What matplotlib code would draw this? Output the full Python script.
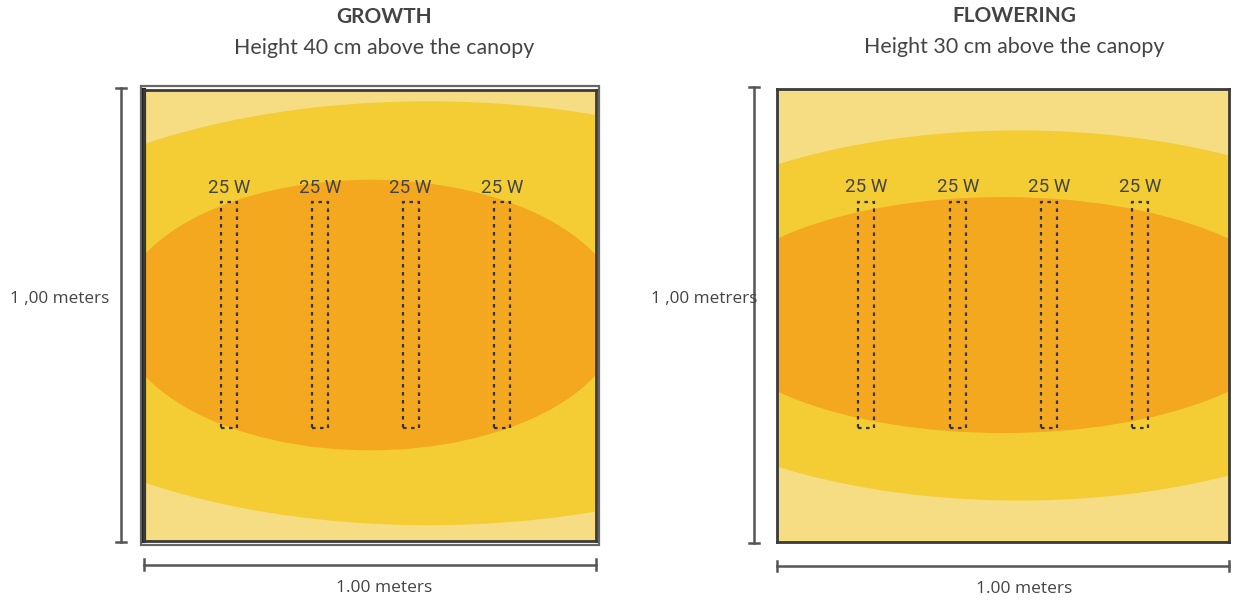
import matplotlib
matplotlib.use("Agg")
import matplotlib.pyplot as plt
from matplotlib.patches import Ellipse, Rectangle

# panel titles
titles = ["GROWTH", "FLOWERING"]
subtitles = ["Height 40 cm above the canopy", "Height 30 cm above the canopy"]
side_labels = ["1 ,00 meters", "1 ,00 metrers"]
bottom_labels = ["1.00 meters", "1.00 meters"]

# lamps (meters): x centre of each bar, bar span in y
lamp_watts = [25, 25, 25, 25]
lamp_x_growth = [0.188, 0.389, 0.590, 0.792]
lamp_x_flower = [0.197, 0.400, 0.602, 0.803]
lamp_y = (0.251, 0.751)
lamp_w = 0.035

# light zones as ellipses: (cx, cy, width, height) in meters
zones_growth = {"mid": (0.63, 0.505, 2.09, 0.94), "high": (0.50, 0.501, 1.115, 0.60)}
zones_flower = {"mid": (0.535, 0.50, 1.85, 0.817), "high": (0.50, 0.501, 1.31, 0.521)}

c_low = "#F6DC82"
c_mid = "#F3CD33"
c_high = "#F4A81F"
txt = "#444444"

fig = plt.figure(figsize=(12.38, 6), dpi=100)
ax1 = fig.add_axes([144 / 1238, 59 / 600, 452 / 1238, 451 / 600])
ax2 = fig.add_axes([777 / 1238, 58 / 600, 452 / 1238, 453 / 600])


def draw_panel(ax, zones, lamp_x, title, sub, side, bottom, tx, bx, side_x):
    ax.set_xlim(0, 1)
    ax.set_ylim(0, 1)
    ax.set_facecolor(c_low)
    ax.set_xticks([])
    ax.set_yticks([])
    for key, col in (("mid", c_mid), ("high", c_high)):
        cx, cy, w, h = zones[key]
        ax.add_patch(Ellipse((cx, cy), w, h, facecolor=col, edgecolor="none"))
    for x, wt in zip(lamp_x, lamp_watts):
        ax.add_patch(Rectangle((x - lamp_w / 2, lamp_y[0]), lamp_w, lamp_y[1] - lamp_y[0],
                               fill=False, edgecolor="#333333", lw=1.6,
                               linestyle=(0, (1.6, 2.0))))
        ax.text(x, 0.783, f"{wt} W", ha="center", va="center", fontsize=13.5,
                family="Roboto", color=txt)
    for s in ax.spines.values():
        s.set_color("#3a3a3a")
        s.set_linewidth(2)
    tr = ax.transAxes
    # dimension lines
    vx = -0.051
    ax.plot([vx, vx], [-0.003, 1.004], color="#555555", lw=1.8, transform=tr, clip_on=False)
    for yy in (-0.003, 1.004):
        ax.plot([vx - 0.011, vx + 0.011], [yy, yy], color="#555555", lw=1.8,
                transform=tr, clip_on=False)
    hy = -0.053
    ax.plot([0.0, 1.0], [hy, hy], color="#555555", lw=1.8, transform=tr, clip_on=False)
    for xx in (0.0, 1.0):
        ax.plot([xx, xx], [hy - 0.012, hy + 0.012], color="#555555", lw=1.8,
                transform=tr, clip_on=False)
    ax.text(side_x, 0.537, side, ha="right", va="center", fontsize=12.3,
            family="Open Sans", color=txt, transform=tr)
    ax.text(bx, -0.104, bottom, ha="center", va="center", fontsize=12.5,
            family="Open Sans", color=txt, transform=tr)
    ax.text(tx, 1.162, title, ha="center", va="center", fontsize=15,
            family="Lato", weight="bold", color=txt, transform=tr)
    ax.text(tx, 1.093, sub, ha="center", va="center", fontsize=15.4,
            family="Lato", color=txt, transform=tr)


draw_panel(ax1, zones_growth, lamp_x_growth, titles[0], subtitles[0],
           side_labels[0], bottom_labels[0], 0.531, 0.531, -0.077)
draw_panel(ax2, zones_flower, lamp_x_flower, titles[1], subtitles[1],
           side_labels[1], bottom_labels[1], 0.524, 0.546, -0.044)

# extra outer frame on the growth panel
ax1.add_patch(Rectangle((-0.007, -0.009), 1.014, 1.018, transform=ax1.transAxes,
                        fill=False, edgecolor="#666666", lw=1.6, clip_on=False))
ax1.plot([0.0, 0.0], [0, 1], color="#222222", lw=3.0, transform=ax1.transAxes,
         clip_on=False)

fig.savefig("out.png", dpi=100)
